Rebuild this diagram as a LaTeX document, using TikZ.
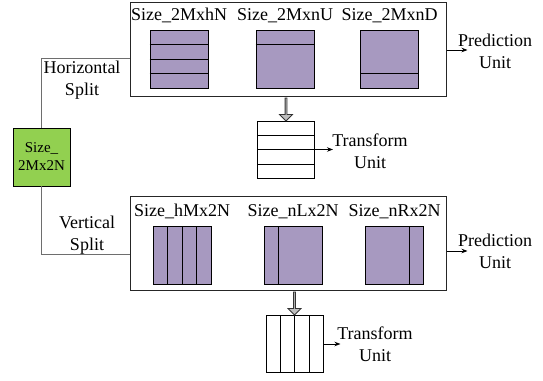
\documentclass[tikz,border=0pt]{standalone}
\usepackage{fontspec}
\setmainfont{Liberation Serif}
\usetikzlibrary{arrows.meta, positioning, shapes, calc}
\definecolor{pupurple}{RGB}{167, 153, 192}
\definecolor{cugreen}{RGB}{146, 208, 80}
\definecolor{linkgray}{RGB}{110, 110, 110}

\begin{document}
\begin{tikzpicture}[x=1pt, y=1pt]
\tikzstyle{group} = [rectangle, draw=black!85, line width=1pt, minimum width=316pt, minimum height=94pt]
\tikzstyle{part} = [rectangle, draw=black, line width=0.9pt, fill=pupurple, minimum width=58pt, minimum height=58pt]
\tikzstyle{tblock} = [rectangle, draw=black, line width=0.9pt, fill=white, minimum width=57pt, minimum height=57pt]
\tikzstyle{cu} = [rectangle, draw=black, line width=0.9pt, fill=cugreen, minimum width=57pt, minimum height=58pt, align=center, font=\fontsize{15}{18}\selectfont]
\tikzstyle{lbl} = [font=\fontsize{18}{22}\selectfont, inner sep=0pt, align=center]
\tikzstyle{arrow} = [line width=0.8pt, -{Stealth[length=6pt, width=4.5pt]}]
\tikzstyle{link} = [line width=1pt, draw=linkgray]
\tikzstyle{down} = [single arrow, draw=black!80, line width=0.8pt, fill=black!25, shape border rotate=270, minimum width=13pt, single arrow head extend=2.5pt, minimum height=23pt, inner sep=0pt]

\useasboundingbox (0,0) rectangle (543,380);

% coding unit
\node (cu) [cu] at (41.5,223) {Size\_\\2Mx2N};

% horizontal split
\node (pb1) [group] at (288,330) {};
\node (hN) [part] at (179,321) {};
\node (nU) [part] at (285,321) {};
\node (nD) [part] at (389.5,321) {};
\node [lbl, anchor=base] at ($(hN.north)+(0,9)$) {Size\_2MxhN};
\node [lbl, anchor=base] at ($(nU.north)+(0,9)$) {Size\_2MxnU};
\node [lbl, anchor=base] at ($(nD.north)+(0,9)$) {Size\_2MxnD};
\foreach \k in {1,2,3}
  \draw [line width=0.9pt] ($(hN.south west)!\k/4!(hN.north west)$) -- ($(hN.south east)!\k/4!(hN.north east)$);
\draw [line width=0.9pt] ($(nU.south west)!3/4!(nU.north west)$) -- ($(nU.south east)!3/4!(nU.north east)$);
\draw [line width=0.9pt] ($(nD.south west)!1/4!(nD.north west)$) -- ($(nD.south east)!1/4!(nD.north east)$);

\node (tu1) [tblock] at (286,230.5) {};
\foreach \k in {1,2,3}
  \draw [line width=0.7pt] ($(tu1.south west)!\k/4!(tu1.north west)$) -- ($(tu1.south east)!\k/4!(tu1.north east)$);
\node (a1) [down] at ($(pb1.south -| tu1.north)!0.5!(tu1.north)$) {};

\draw [arrow] (pb1.east) -- ++(21,0) coordinate (pe1);
\node (pt1) [lbl] at (495,329) {Prediction\\Unit};
\draw [arrow] (tu1.east) -- ++(18,0) coordinate (te1);
\node (tt1) [lbl] at (370,229) {Transform\\Unit};

\draw [link] (cu.north) |- ([yshift=-9pt]pb1.west);
\node (hs) [lbl] at (82,300) {Horizontal\\Split};

% vertical split
\node (pb2) [group] at (288,136.5) {};
\node (hM) [part] at (182,125) {};
\node (nL) [part] at (293,125) {};
\node (nR) [part] at (394.5,125) {};
\node [lbl, anchor=base] at ($(hM.north)+(0,9)$) {Size\_hMx2N};
\node [lbl, anchor=base] at ($(nL.north)+(0,9)$) {Size\_nLx2N};
\node [lbl, anchor=base] at ($(nR.north)+(0,9)$) {Size\_nRx2N};
\foreach \k in {1,2,3}
  \draw [line width=0.9pt] ($(hM.south west)!\k/4!(hM.south east)$) -- ($(hM.north west)!\k/4!(hM.north east)$);
\draw [line width=0.9pt] ($(nL.south west)!1/4!(nL.south east)$) -- ($(nL.north west)!1/4!(nL.north east)$);
\draw [line width=0.9pt] ($(nR.south west)!3/4!(nR.south east)$) -- ($(nR.north west)!3/4!(nR.north east)$);

\node (tu2) [tblock] at (294.5,36) {};
\foreach \k in {1,2,3}
  \draw [line width=0.7pt] ($(tu2.south west)!\k/4!(tu2.south east)$) -- ($(tu2.north west)!\k/4!(tu2.north east)$);
\node (a2) [down] at ($(pb2.south -| tu2.north)!0.5!(tu2.north)$) {};

\draw [arrow] ([yshift=-7.5pt]pb2.east) -- ++(21,0) coordinate (pe2);
\node (pt2) [lbl] at (495,129) {Prediction\\Unit};
\draw [arrow] (tu2.east) -- ++(17,0) coordinate (te2);
\node (tt2) [lbl] at (375,36) {Transform\\Unit};

\draw [link] (cu.south) |- ([yshift=-11.5pt]pb2.west);
\node (vs) [lbl] at (87,145) {Vertical\\Split};
\end{tikzpicture}
\end{document}
